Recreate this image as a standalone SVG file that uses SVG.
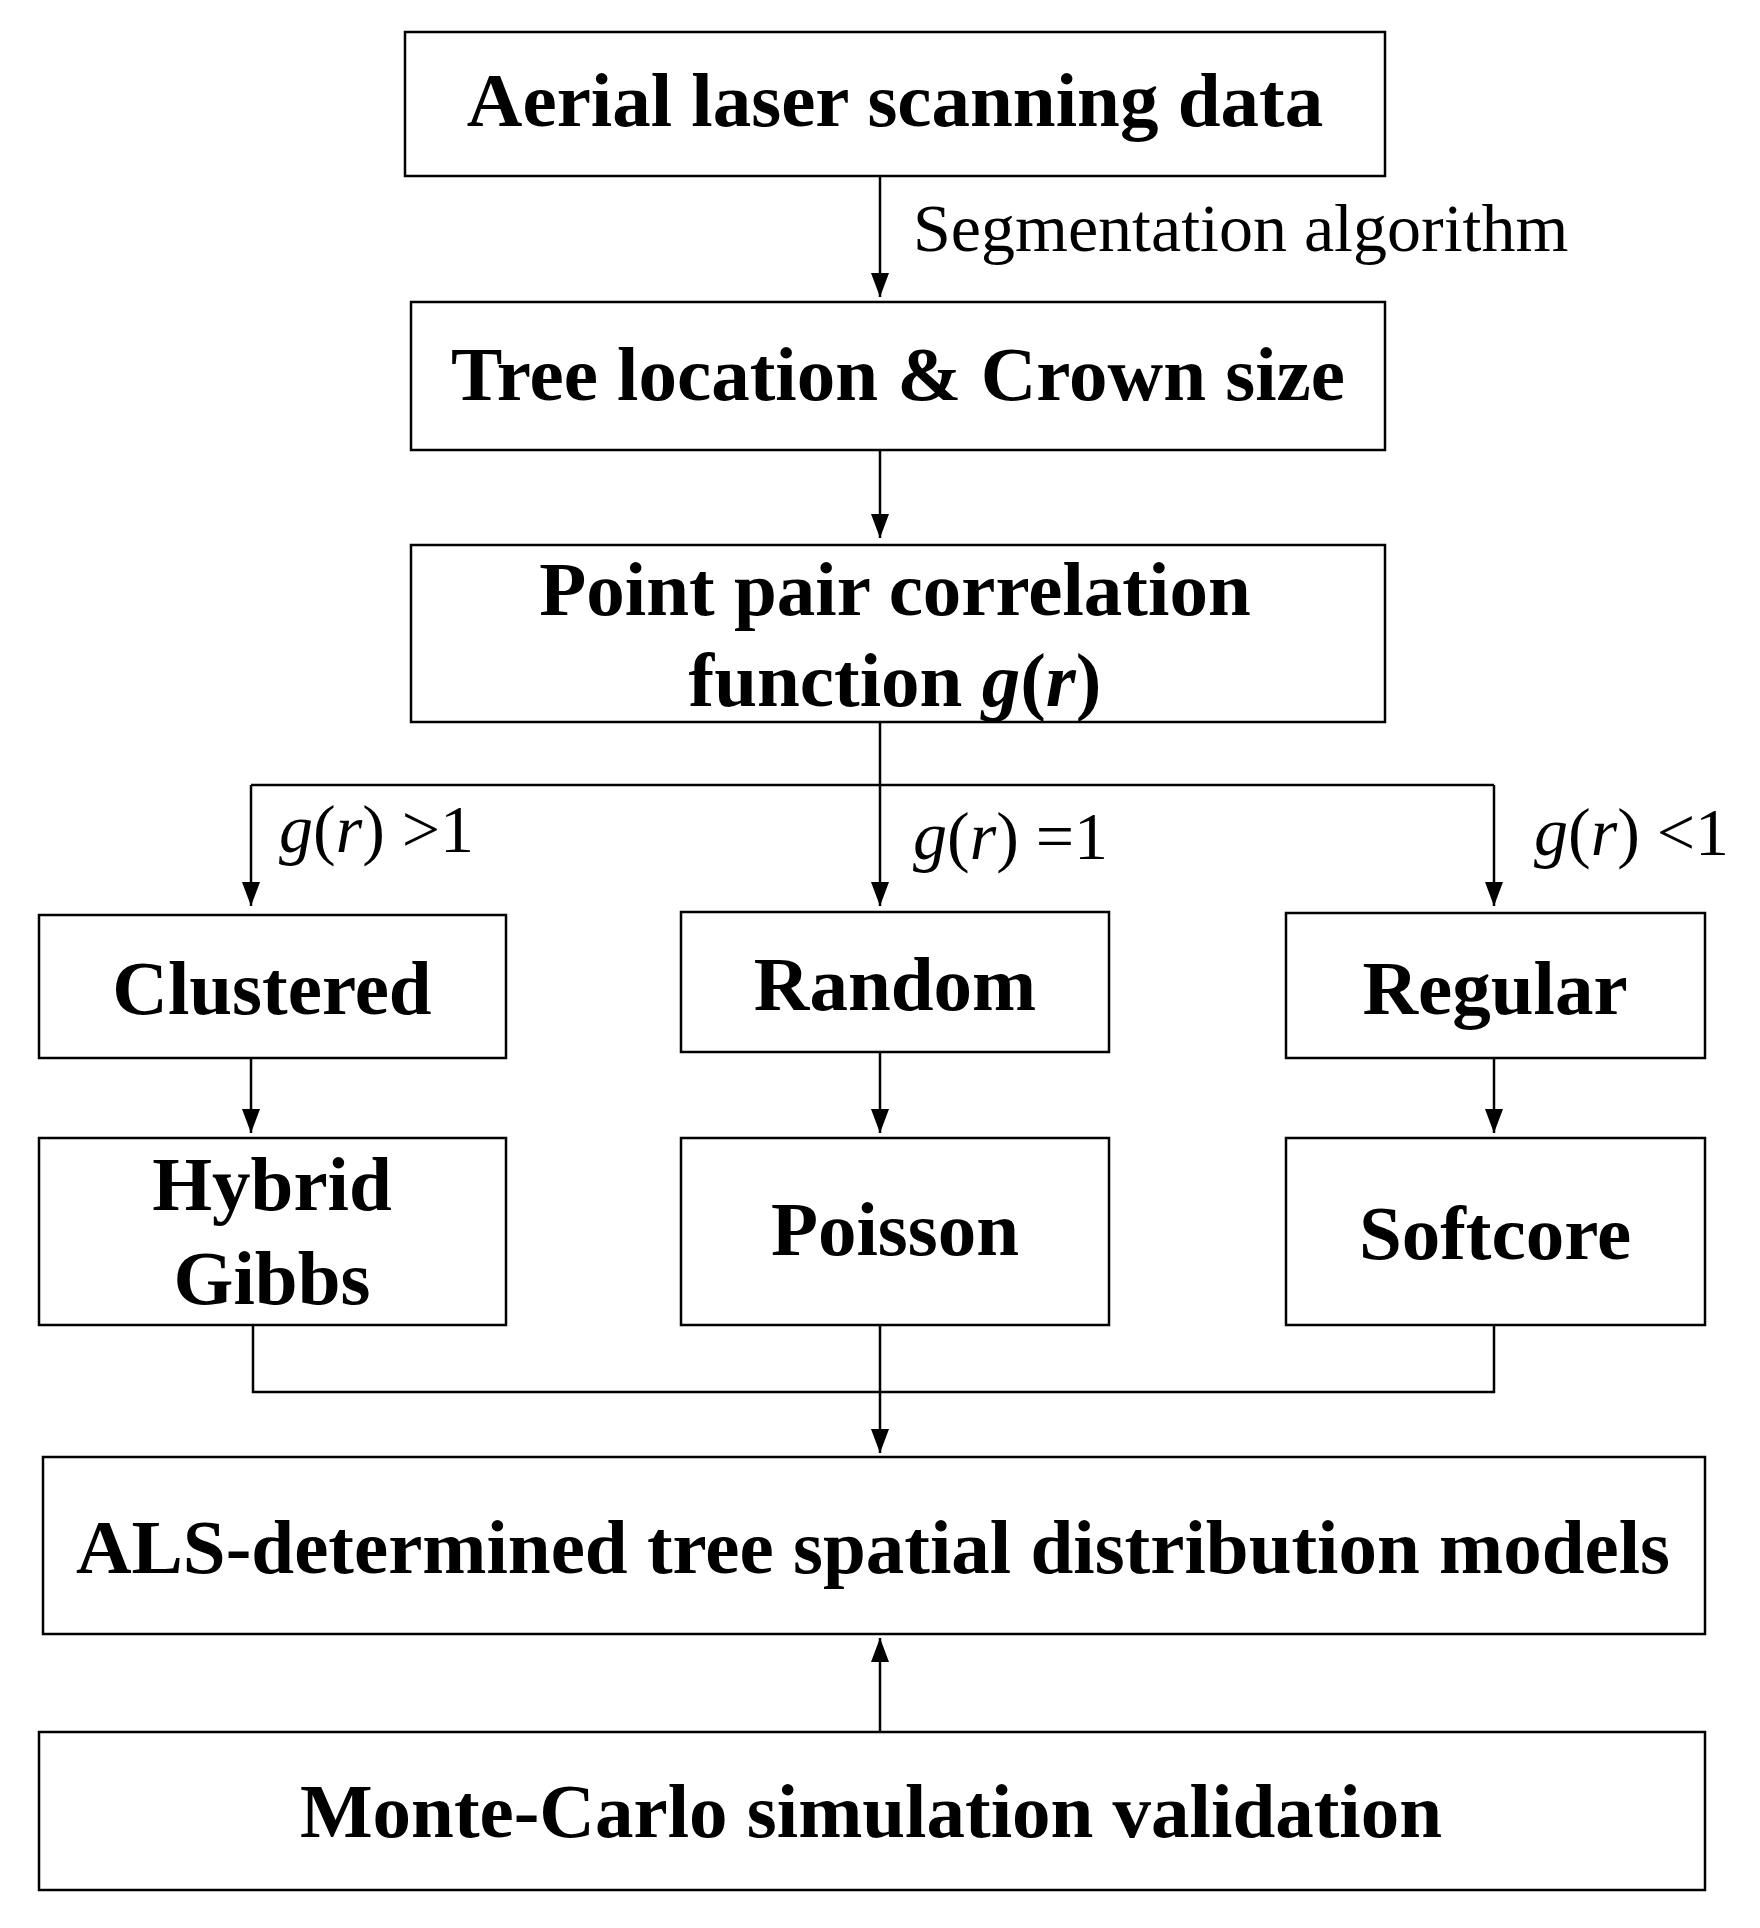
<svg xmlns="http://www.w3.org/2000/svg" width="1760" height="1928" viewBox="0 0 1760 1928">
<style>
rect{fill:#fff;stroke:#000;stroke-width:2.5}
.b{font-family:"Liberation Serif",serif;font-weight:bold;font-size:77px;text-anchor:middle}
.l{font-family:"Liberation Serif",serif;font-size:68px}
.c{fill:none;stroke:#000;stroke-width:2.5}
</style>
<defs><marker id="a" markerWidth="24" markerHeight="18" refX="24" refY="9" orient="auto" markerUnits="userSpaceOnUse" viewBox="0 0 24 18"><path d="M0,0 L24,9 L0,18z" fill="#000"/></marker></defs>
<rect width="1760" height="1928" style="stroke:none"/>
<g id="connectors">
<path class="c" d="M880,176 V297" marker-end="url(#a)"/>
<path class="c" d="M880,450 V538" marker-end="url(#a)"/>
<path class="c" d="M880,722 V906"  marker-end="url(#a)"/>
<path class="c" d="M251,785 H1494"/>
<path class="c" d="M251,785 V906" marker-end="url(#a)"/>
<path class="c" d="M1494,785 V906" marker-end="url(#a)"/>
<path class="c" d="M251,1058 V1133" marker-end="url(#a)"/>
<path class="c" d="M880,1052 V1133" marker-end="url(#a)"/>
<path class="c" d="M1494,1058 V1133" marker-end="url(#a)"/>
<path class="c" d="M253,1325 V1392 H1494 V1325 M880,1325 V1453" marker-end="url(#a)"/>
<path class="c" d="M880,1732 V1638" marker-end="url(#a)"/>
<text class="l" x="913" y="251" font-size="76">Segmentation algorithm</text>
<text class="l" x="279" y="852"><tspan font-style="italic">g</tspan>(<tspan font-style="italic">r</tspan>) &gt;1</text>
<text class="l" x="913" y="859"><tspan font-style="italic">g</tspan>(<tspan font-style="italic">r</tspan>) =1</text>
<text class="l" x="1534" y="855"><tspan font-style="italic">g</tspan>(<tspan font-style="italic">r</tspan>) &lt;1</text>
</g>
<g id="n1"><rect x="405" y="32" width="980" height="144"/><text class="b" x="895" y="126">Aerial laser scanning data</text></g>
<g id="n2"><rect x="411" y="302" width="974" height="148"/><text class="b" x="898" y="400">Tree location &amp; Crown size</text></g>
<g id="n3"><rect x="411" y="545" width="974" height="177"/><text class="b" x="895" y="615">Point pair correlation</text><text class="b" x="895" y="706">function <tspan font-style="italic">g</tspan>(<tspan font-style="italic">r</tspan>)</text></g>
<g id="n4"><rect x="39" y="915" width="467" height="143"/><text class="b" x="272" y="1014">Clustered</text></g>
<g id="n5"><rect x="681" y="912" width="428" height="140"/><text class="b" x="895" y="1010">Random</text></g>
<g id="n6"><rect x="1286" y="913" width="419" height="145"/><text class="b" x="1495" y="1014">Regular</text></g>
<g id="n7"><rect x="39" y="1138" width="467" height="187"/><text class="b" x="272" y="1210">Hybrid</text><text class="b" x="272" y="1304">Gibbs</text></g>
<g id="n8"><rect x="681" y="1138" width="428" height="187"/><text class="b" x="895" y="1255">Poisson</text></g>
<g id="n9"><rect x="1286" y="1138" width="419" height="187"/><text class="b" x="1495" y="1259">Softcore</text></g>
<g id="n10"><rect x="43" y="1457" width="1662" height="177"/><text class="b" x="873" y="1573">ALS-determined tree spatial distribution models</text></g>
<g id="n11"><rect x="39" y="1732" width="1666" height="158"/><text class="b" x="871" y="1837">Monte-Carlo simulation validation</text></g>
</svg>
